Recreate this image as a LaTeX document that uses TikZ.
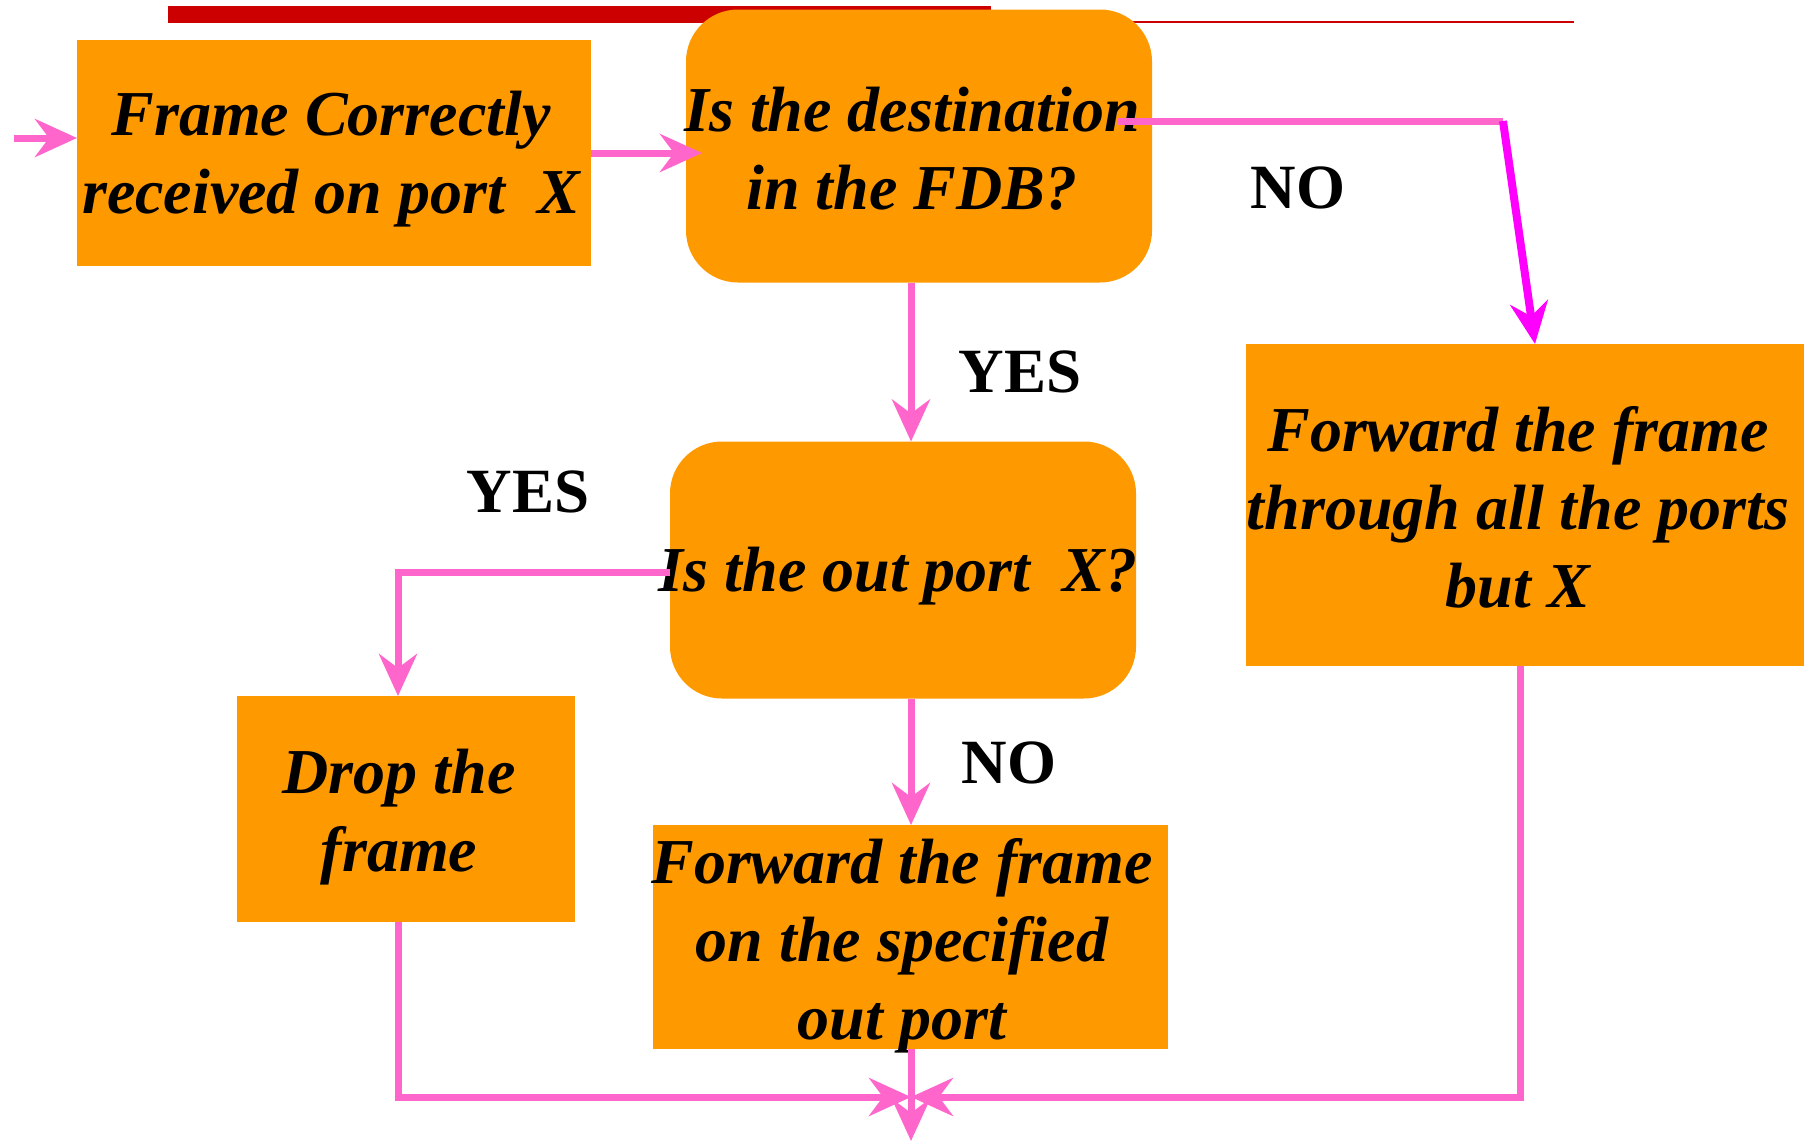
\documentclass[tikz,border=0pt]{standalone}
\usepackage{fontspec}
\setmainfont{Liberation Serif}
\usepackage{tikz}
\usetikzlibrary{arrows.meta,positioning}
\definecolor{bridgeOrange}{HTML}{FF9900}
\definecolor{bridgePink}{HTML}{FF66CC}
\definecolor{bridgeMagenta}{HTML}{FF00FF}
\definecolor{bridgeRed}{HTML}{CC0000}
\tikzset{
  stepbox/.style={fill=bridgeOrange,inner sep=0pt,outer sep=0pt},
  askbox/.style={stepbox,rounded corners=26pt},
  boxtext/.style={align=center,inner sep=0pt,
    font=\fontsize{32}{39}\selectfont\bfseries\itshape},
  answer/.style={inner sep=0pt,font=\fontsize{31.5}{36}\selectfont\bfseries},
  flow/.style={-{Stealth[length=21pt,width=19pt,inset=7pt]},line width=3.5pt,bridgePink},
  wire/.style={line width=3.5pt,bridgePink}
}
\begin{document}
\begin{tikzpicture}[x=.5pt,y=-.5pt]
  \useasboundingbox (0,0) rectangle (1804,1141);
  % title rule
  \fill[bridgeRed] (168,6) rectangle (991,22.5);
  \fill[bridgeRed] (991,20.5) rectangle (1574,22.5);
  % boxes
  \node[stepbox,minimum width=257pt,minimum height=113pt] (recv) at (334,153) {};
  \node[askbox,minimum width=233pt,minimum height=136.5pt] (infdb) at (919,146) {};
  \node[stepbox,minimum width=279pt,minimum height=161pt] (flood) at (1525,505) {};
  \node[askbox,minimum width=233pt,minimum height=128.5pt] (isx) at (903,570) {};
  \node[stepbox,minimum width=169pt,minimum height=113pt] (drop) at (406,809) {};
  \node[stepbox,minimum width=257.5pt,minimum height=112pt] (fwd) at (910,937) {};
  % texts
  \node[boxtext] (recvT) at (331,159) {Frame Correctly\\received on port~~X};
  \node[boxtext] (infdbT) at (912,149) {Is the destination\\in the FDB?};
  \node[boxtext] (floodT) at (1518,507) {Forward the frame\\through all the ports\\but X};
  \node[boxtext] (isxT) at (898,576) {Is the out port~~X?};
  \node[boxtext] (dropT) at (399,817) {Drop the\\frame};
  \node[boxtext] (fwdT) at (902,946) {Forward the frame\\on the specified\\out port};
  % answers
  \node[answer] (noA) at (1298,188) {NO};
  \node[answer] (yesA) at (1020,372) {YES};
  \node[answer] (yesB) at (528,492) {YES};
  \node[answer] (noB) at (1009,763) {NO};
  % connectors
  \coordinate (in) at (14,138);
  \coordinate (spine) at (911,0);
  \coordinate (bend) at (1503,121);
  \coordinate (join) at (911,1097);
  \coordinate (out) at (911,1141);
  \draw[flow] (in) -- (in -| recv.west);
  \draw[flow] (recv.east) -- ([xshift=8pt]recv.east -| infdb.west);
  \draw[wire] ([xshift=-17pt]infdb.east |- bend) -- (bend);
  \draw[flow,bridgeMagenta,line width=4pt] (bend) -- ([xshift=5pt]flood.north);
  \draw[flow] (infdb.south -| spine) -- (isx.north -| spine);
  \draw[flow] ([yshift=-1pt]isx.west) -| ([xshift=-4pt]drop.north);
  \draw[flow] (isx.south -| spine) -- (fwd.north -| spine);
  \draw[flow] ([xshift=-4pt]drop.south) |- (join);
  \draw[flow] ([xshift=-2.5pt]flood.south) |- (join);
  \draw[flow] (fwd.south -| spine) -- (out);
\end{tikzpicture}
\end{document}
